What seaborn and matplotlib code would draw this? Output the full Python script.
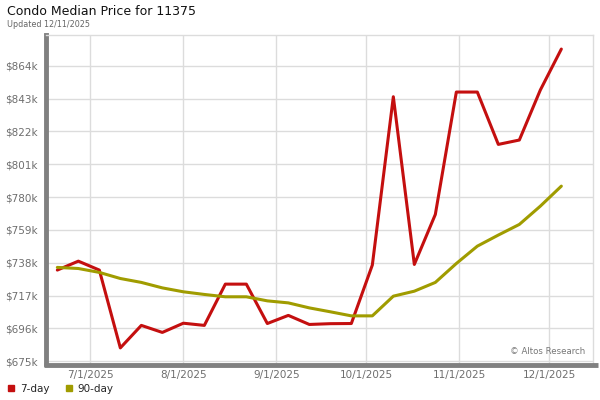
import pandas as pd
import seaborn as sns
import matplotlib.pyplot as plt
from matplotlib.lines import Line2D

# weekly data points, 6/20/2025 .. 12/5/2025
dates = pd.date_range("2025-06-20", periods=25, freq="7D")
price_7day = [733.3, 739.0, 733.3, 683.5, 697.9, 693.4, 699.3, 697.9, 724.3, 724.3,
              699.1, 704.3, 698.5, 699.0, 699.1, 736.5, 844.2, 736.9, 768.9, 847.2,
              847.2, 813.7, 816.5, 848.5, 874.7]
price_90day = [735.0, 734.3, 731.8, 727.9, 725.4, 721.9, 719.4, 717.7, 716.2, 716.2,
               713.6, 712.3, 709.1, 706.6, 704.0, 704.0, 716.6, 719.8, 725.4, 737.5,
               748.6, 755.7, 762.5, 774.2, 787.0]
y_ticks = [675, 696, 717, 738, 759, 780, 801, 822, 843, 864]
x_ticks = ["2025-07-01", "2025-08-01", "2025-09-01", "2025-10-01", "2025-11-01", "2025-12-01"]
x_labels = ["7/1/2025", "8/1/2025", "9/1/2025", "10/1/2025", "11/1/2025", "12/1/2025"]

red = "#c40f0f"
olive = "#a09c00"

df = pd.DataFrame({"date": dates, "7-day": price_7day, "90-day": price_90day})
long_df = df.melt(id_vars="date", var_name="series", value_name="price")

sns.set_style("white")
plt.rcParams["font.family"] = ["DejaVu Sans"]

fig = plt.figure(figsize=(6, 4), dpi=100)
ax = fig.add_axes([0.0767, 0.09, 0.9117, 0.8225])

sns.lineplot(data=long_df, x="date", y="price", hue="series",
             palette={"7-day": red, "90-day": olive}, linewidth=2.2,
             legend=False, ax=ax)

ax.set_xlim(pd.Timestamp("2025-06-16 05:30"), pd.Timestamp("2025-12-15 13:40"))
ax.set_ylim(673.2, 883.7)
ax.set_yticks(y_ticks)
ax.set_yticklabels([f"${v}k" for v in y_ticks])
ax.set_xticks([pd.Timestamp(d) for d in x_ticks])
ax.set_xticklabels(x_labels)
ax.set_xlabel("")
ax.set_ylabel("")
ax.grid(True, color="#dcdcdc", linewidth=1)
ax.tick_params(axis="both", length=0, labelsize=7.5, labelcolor="#6e6e6e")
ax.tick_params(axis="y", pad=6)
ax.tick_params(axis="x", pad=4)

for side in ["top", "right"]:
    ax.spines[side].set_color("#dcdcdc")
    ax.spines[side].set_linewidth(1)
ax.spines["left"].set_color("#808080")
ax.spines["left"].set_linewidth(3.5)
ax.spines["bottom"].set_visible(False)

# thick base bar running slightly past the plot area
fig.add_artist(Line2D([0.0737, 0.997], [0.087, 0.087], color="#808080",
                      linewidth=3.5, solid_capstyle="butt"))

ax.text(0.986, 0.025, "\u00a9 Altos Research", transform=ax.transAxes,
        ha="right", va="bottom", fontsize=6.2, color="#777777")

fig.text(0.012, 0.972, "Condo Median Price for 11375", fontsize=9, color="#111111",
         ha="left", va="center")
fig.text(0.012, 0.938, "Updated 12/11/2025", fontsize=5.8, color="#666666",
         ha="left", va="center")

handles = [Line2D([], [], marker="s", linestyle="", color=red, markersize=4.5),
           Line2D([], [], marker="s", linestyle="", color=olive, markersize=4.5)]
fig.legend(handles, ["7-day", "90-day"], loc="lower left", bbox_to_anchor=(0.0, 0.0),
           ncol=2, frameon=False, fontsize=7.5, handletextpad=0.3, columnspacing=1.4,
           handlelength=1.0, borderaxespad=0.2)

fig.savefig("out.png", dpi=100)
